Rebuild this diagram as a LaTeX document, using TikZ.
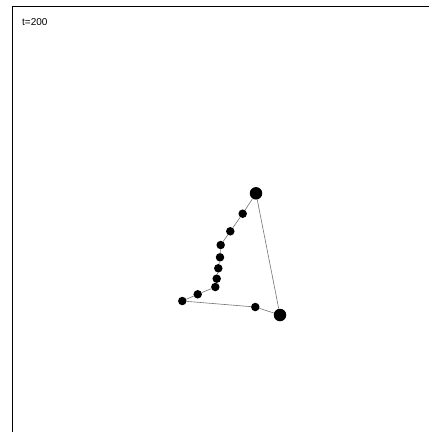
\documentclass[tikz,border=0pt]{standalone}
\usepackage{fontspec}
\setmainfont{Liberation Sans}
\begin{document}
\begin{tikzpicture}[x=1pt,y=-1pt,
  dot/.style={circle,fill=black,inner sep=0pt,minimum size=8.5pt},
  bigdot/.style={circle,fill=black,inner sep=0pt,minimum size=12.5pt},
  link/.style={draw=black!55,line width=0.6pt},
  frame/.style={draw=black,line width=1pt}]
\useasboundingbox (0,0) rectangle (429,432);
\coordinate (fa) at (12.5,432);
\coordinate (fb) at (12.5,6);
\coordinate (fc) at (429,6);
\draw[frame] (fa) -- (fb) -- (fc);
\node[anchor=west,inner sep=0pt,font=\fontsize{10}{12}\selectfont] (lbl) at (22,22) {t=200};
\node[bigdot] (p0) at (256,193.3) {};
\node[dot] (p1) at (242.7,213.7) {};
\node[dot] (p2) at (230.3,231.3) {};
\node[dot] (p3) at (220.7,245) {};
\node[dot] (p4) at (220,257.3) {};
\node[dot] (p5) at (218.3,268.3) {};
\node[dot] (p6) at (216.7,278.7) {};
\node[dot] (p7) at (215.3,287) {};
\node[dot] (p8) at (197.7,294.3) {};
\node[dot] (p9) at (182.3,301) {};
\node[dot] (p10) at (255.3,307) {};
\node[bigdot] (p11) at (280,315) {};
\draw[link] (p0) -- (p1) -- (p2) -- (p3) -- (p4) -- (p5) -- (p6) -- (p7) -- (p8) -- (p9) -- (p10) -- (p11) -- (p0);
\end{tikzpicture}
\end{document}
